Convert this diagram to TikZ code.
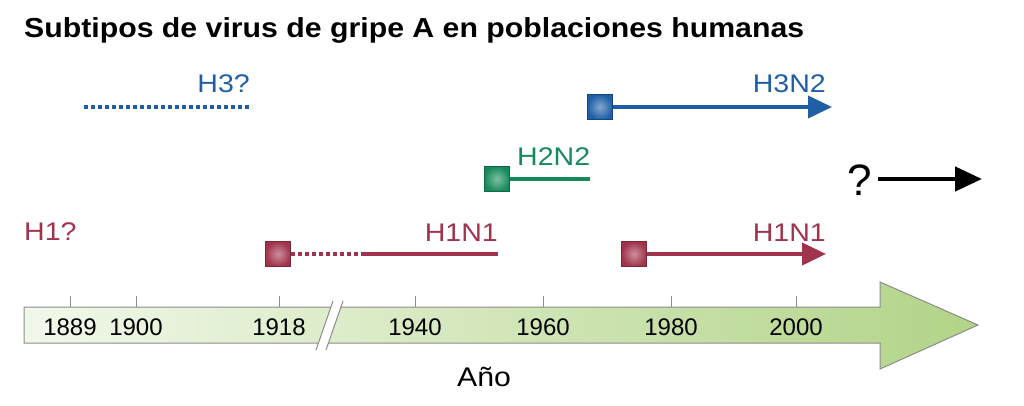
\documentclass[tikz,border=0pt]{standalone}
\usepackage{fontspec}
\setmainfont{Liberation Sans}
\newfontfamily\widefont[FakeStretch=1.12]{Liberation Sans}
\newfontfamily\titlefont[FakeStretch=1.1]{Liberation Sans Bold}
\usetikzlibrary{arrows.meta}
\definecolor{fluBlue}{HTML}{1F5FA5}
\definecolor{fluGreen}{HTML}{178A5C}
\definecolor{fluRed}{HTML}{A0344C}
\definecolor{barEdge}{HTML}{8C8C8C}
\definecolor{barLeft}{HTML}{F2F8EA}
\definecolor{barRight}{HTML}{B2D488}
\begin{document}
\begin{tikzpicture}[x=1pt, y=-1pt,
  sq/.style={rectangle, minimum size=25pt, inner sep=0pt, draw=#1!75!black, inner color=#1!55!white, outer color=#1},
  lbl/.style={text=#1, font=\widefont\fontsize{25.5}{28}\selectfont, inner sep=0pt},
  yr/.style={font=\fontsize{24}{26}\selectfont, inner sep=0pt},
  tip/.style={-{Triangle[length=24pt, width=22pt]}}]
\useasboundingbox (0,0) rectangle (1024,406);
\node[anchor=base west, inner sep=0pt, font=\titlefont\fontsize{27.5}{30}\selectfont] (title) at (24,38) {Subtipos de virus de gripe A en poblaciones humanas};
% timeline bar
\draw[barEdge, line width=1pt, left color=barLeft, right color=barRight] (24,307) -- (880,307) -- (880,282) -- (978,325) -- (880,369) -- (880,343) -- (24,343) -- cycle;
\fill[white] (316,350) -- (333,301) -- (343,301) -- (326,350) -- cycle;
\draw[barEdge, line width=1pt] (316,350) -- (333,301) (326,350) -- (343,301);
\foreach \yr/\xx in {1889/70, 1900/136, 1918/279, 1940/415, 1960/543, 1980/671, 2000/796}{
  \coordinate (t\yr) at (\xx,307);
  \draw[barEdge, line width=1pt] (t\yr) -- ++(0,-11);
  \node[yr, anchor=base] (y\yr) at (\xx,335) {\yr};
}
\node[anchor=base, inner sep=0pt, font=\widefont\fontsize{27}{29}\selectfont] (ano) at (484,386) {Año};
% H3
\coordinate (h3a) at (84,107);
\coordinate (h3b) at (252,107);
\draw[fluBlue, line width=4pt, dash pattern=on 4pt off 3pt] (h3a) -- (h3b);
\node[lbl=fluBlue, anchor=base east] (h3lbl) at (250,93) {H3?};
\node[sq=fluBlue] (h3n2sq) at (600,107) {};
\coordinate (h3n2end) at (832,107);
\draw[fluBlue, line width=4pt, tip] (h3n2sq.east) -- (h3n2end);
\node[lbl=fluBlue, anchor=base east] (h3n2lbl) at (826,93) {H3N2};
% H2N2
\node[sq=fluGreen] (h2n2sq) at (497,179) {};
\coordinate (h2n2end) at (590,179);
\draw[fluGreen, line width=4pt] (h2n2sq.east) -- (h2n2end);
\node[lbl=fluGreen, anchor=base west] (h2n2lbl) at (517,165) {H2N2};
% H1
\node[lbl=fluRed, anchor=base west] (h1lbl) at (24,240) {H1?};
\node[sq=fluRed] (h1n1sqa) at (278,254) {};
\coordinate (h1n1mid) at (361,254);
\coordinate (h1n1enda) at (498,254);
\draw[fluRed, line width=4pt, dash pattern=on 4pt off 3pt] (h1n1sqa.east) -- (h1n1mid);
\draw[fluRed, line width=4pt] (h1n1mid) -- (h1n1enda);
\node[lbl=fluRed, anchor=base east] (h1n1lbla) at (498,241) {H1N1};
\node[sq=fluRed] (h1n1sqb) at (634,254) {};
\coordinate (h1n1endb) at (826,254);
\draw[fluRed, line width=4pt, tip] (h1n1sqb.east) -- (h1n1endb);
\node[lbl=fluRed, anchor=base east] (h1n1lblb) at (826,241) {H1N1};
% future
\node[anchor=base west, inner sep=0pt, font=\fontsize{44}{46}\selectfont] (qq) at (847,195) {?};
\coordinate (qqend) at (982,179);
\draw[black, line width=4.5pt, -{Triangle[length=27pt, width=24pt]}] (878,179) -- (qqend);
\end{tikzpicture}
\end{document}
